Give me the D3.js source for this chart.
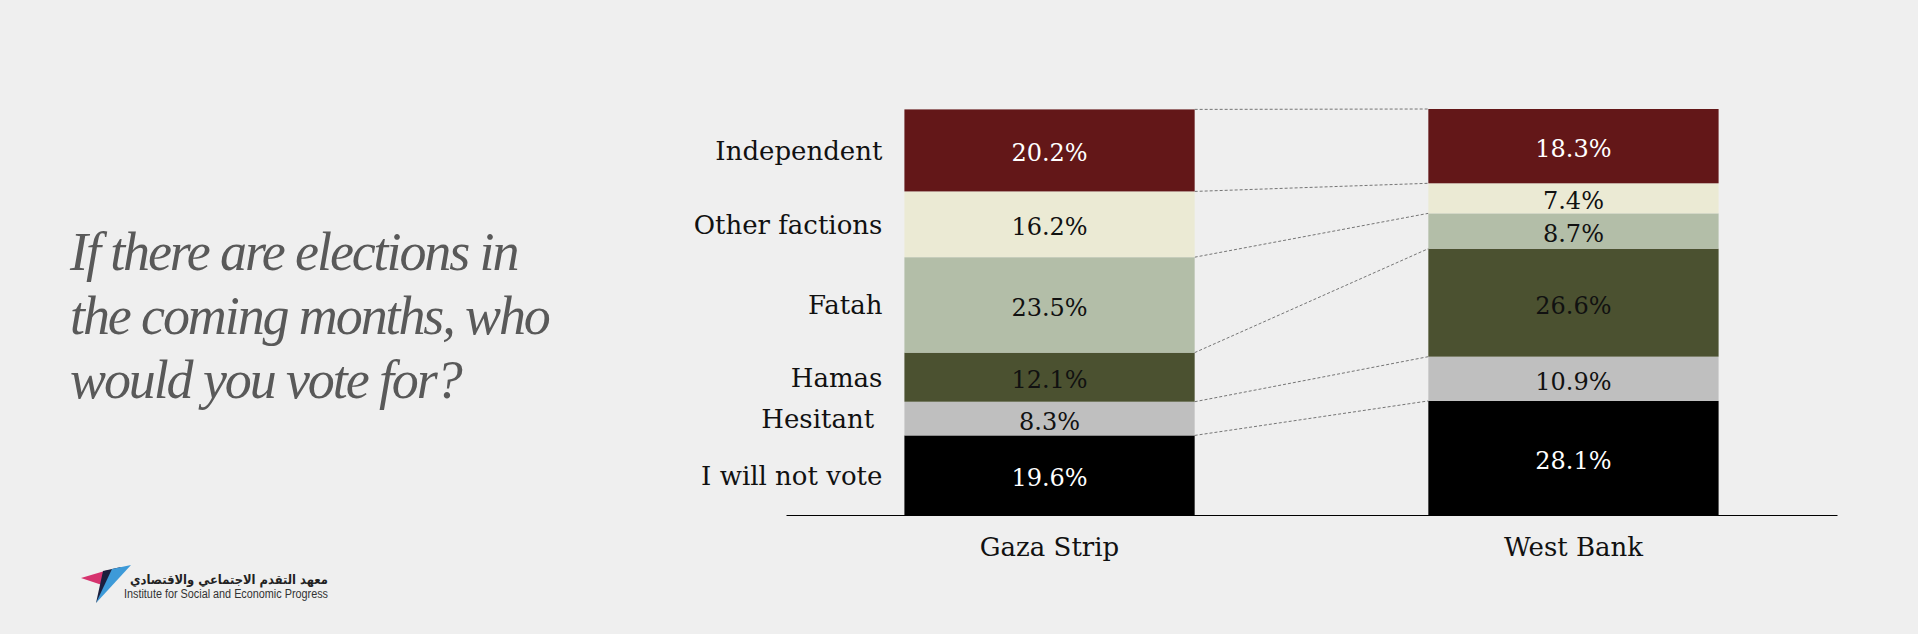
<!DOCTYPE html>
<html>
<head>
<meta charset="utf-8">
<script src="https://cdn.jsdelivr.net/npm/d3@7"></script>
<style>
  html, body { margin: 0; padding: 0; background: #efefef; }
  svg { display: block; }
</style>
</head>
<body>
<div id="chart"></div>
<script>
// data
const regions = ["Gaza Strip", "West Bank"];
const parties = ["Independent", "Other factions", "Fatah", "Hamas", "Hesitant ", "I will not vote"];
const gazaValues = [20.2, 16.2, 23.5, 12.1, 8.3, 19.6];
const westBankValues = [18.3, 7.4, 8.7, 26.6, 10.9, 28.1];
const partyColors = ["#631718", "#ebead4", "#b3bea8", "#4b5130", "#bfbfbf", "#000000"];
const labelColors = ["#ffffff", "#111111", "#111111", "#111111", "#111111", "#ffffff"];
const titleLines = ["If there are elections in", "the coming months, who", "would you vote for?"];

const width = 1918, height = 634;
const margin = {top: 109, bottom: 119, left: 786, right: 81};
const serif = "'DejaVu Serif', serif";

const svg = d3.select("#chart").append("svg")
    .attr("width", width)
    .attr("height", height);

svg.append("rect").attr("width", width).attr("height", height).attr("fill", "#efefef");

// build table for the stack
const table = regions.map((r, i) => {
    let row = {region: r};
    const vals = i === 0 ? gazaValues : westBankValues;
    parties.forEach((p, j) => { row[p] = vals[j]; });
    return row;
});

const stacked = d3.stack().keys(parties.slice().reverse())(table);

const x = d3.scaleBand()
    .domain(regions)
    .range([margin.left, width - margin.right])
    .paddingInner(0.446)
    .paddingOuter(0.226);

const y = d3.scaleLinear()
    .domain([0, 100])
    .range([height - margin.bottom, margin.top]);

const color = d3.scaleOrdinal().domain(parties).range(partyColors);
const textColor = d3.scaleOrdinal().domain(parties).range(labelColors);

// dashed connectors between the two bars
const links = svg.append("g").attr("class", "links");
stacked.forEach(layer => {
    links.append("line")
        .attr("x1", x(regions[0]) + x.bandwidth())
        .attr("x2", x(regions[1]))
        .attr("y1", y(layer[0][1]))
        .attr("y2", y(layer[1][1]))
        .attr("stroke", "#555")
        .attr("stroke-width", 0.8)
        .attr("stroke-dasharray", "3,2");
});

// bars
const layers = svg.append("g").attr("class", "bars")
    .selectAll("g")
    .data(stacked)
    .enter().append("g")
    .attr("fill", d => color(d.key));

layers.selectAll("rect")
    .data(d => d.map(v => Object.assign(v, {key: d.key})))
    .enter().append("rect")
    .attr("x", d => x(d.data.region))
    .attr("width", x.bandwidth())
    .attr("y", d => y(d[1]))
    .attr("height", d => y(d[0]) - y(d[1]));

layers.selectAll("text")
    .data(d => d)
    .enter().append("text")
    .attr("x", d => x(d.data.region) + x.bandwidth() / 2)
    .attr("y", d => (y(d[0]) + y(d[1])) / 2)
    .attr("dy", "0.46em")
    .attr("text-anchor", "middle")
    .style("font", "24px " + serif)
    .attr("fill", d => textColor(d.key))
    .text(d => d3.format(".1f")(d[1] - d[0]) + "%");

// party names beside the Gaza bar
const gazaLayers = stacked.map(layer => ({key: layer.key, v: layer[0]}));
svg.append("g").attr("class", "party-labels")
    .selectAll("text")
    .data(gazaLayers)
    .enter().append("text")
    .attr("x", x(regions[0]) - 22)
    .attr("y", d => (y(d.v[0]) + y(d.v[1])) / 2)
    .attr("dy", "0.36em")
    .attr("text-anchor", "end")
    .style("font", "26px " + serif)
    .style("white-space", "pre")
    .attr("fill", "#111")
    .text(d => d.key);

// bottom axis
const xAxis = d3.axisBottom(x).tickSize(0).tickSizeOuter(0).tickPadding(23);
const axisG = svg.append("g")
    .attr("class", "x_axis")
    .attr("transform", "translate(0," + y(0) + ")")
    .call(xAxis);
axisG.select(".domain").attr("stroke", "#000").attr("stroke-width", 1.2);
axisG.selectAll("text")
    .style("font", "26px " + serif)
    .attr("fill", "#111");

// title on the left
const title = svg.append("text")
    .attr("x", 70)
    .attr("y", 270)
    .style("font", "italic 54px 'Liberation Serif', serif")
    .style("letter-spacing", "-2.1px")
    .attr("fill", "#595959");
title.selectAll("tspan")
    .data(titleLines)
    .enter().append("tspan")
    .attr("x", 70)
    .attr("dy", (d, i) => i === 0 ? 0 : 64)
    .text(d => d);

// logo
const logo = svg.append("g").attr("class", "logo");
logo.append("polygon").attr("points", "81,578 108,570 105,586").attr("fill", "#d6336e");
logo.append("polygon").attr("points", "96,603 103,571 121,567").attr("fill", "#1b1f3d");
logo.append("polygon").attr("points", "112,569 131,565 96,603").attr("fill", "#3d9ad8");
logo.append("text")
    .attr("x", 328).attr("y", 584)
    .attr("text-anchor", "end")
    .attr("textLength", 198)
    .attr("lengthAdjust", "spacingAndGlyphs")
    .style("font", "bold 13px 'DejaVu Sans', sans-serif")
    .attr("fill", "#222")
    .text("معهد التقدم الاجتماعي والاقتصادي");
logo.append("text")
    .attr("x", 124).attr("y", 598)
    .attr("textLength", 204)
    .attr("lengthAdjust", "spacingAndGlyphs")
    .style("font", "12px 'Liberation Sans', sans-serif")
    .attr("fill", "#333")
    .text("Institute for Social and Economic Progress");
</script>
</body>
</html>
